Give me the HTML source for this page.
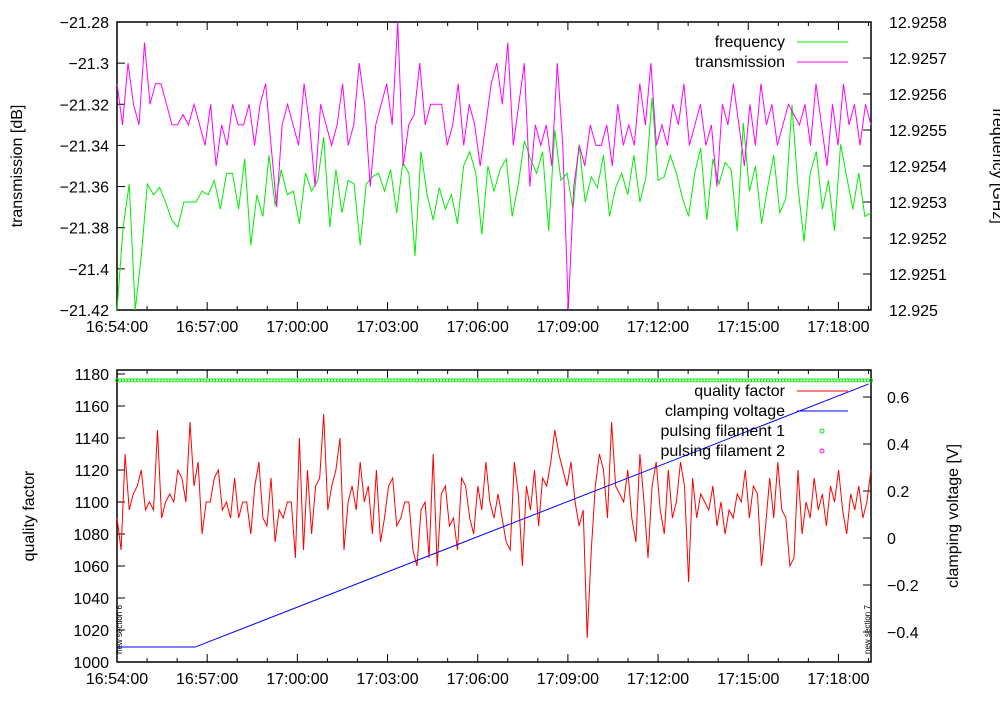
<!DOCTYPE html>
<html><head><meta charset="utf-8"><style>
body{margin:0;background:#fff;width:1000px;height:700px;overflow:hidden}
svg text{font-family:"Liberation Sans",sans-serif;font-size:16px;fill:#000}
</style></head><body>
<svg id="c" width="1000" height="700"></svg>
<script>
const freqVals=[0,2.3,3.5,0,1.5,3.5,3.2,3.4,3,2.5,2.3,3,3,3,3.3,3.2,3.6,2.8,3.8,3.8,2.8,4.2,1.8,3.2,2.6,4.3,2.9,3.9,3.2,3.3,2.4,3.8,3.3,3.6,4.8,2.3,3.9,2.7,3.6,3.5,1.8,3.5,3.7,3.8,3.3,3.9,2.7,4.1,3.8,1.5,4.4,3.2,2.5,3.4,2.8,3.2,2.4,4,4.4,3.8,2.1,4,3.3,3.9,4.2,2.6,3.5,4.7,4.2,3.8,4.4,2.2,5,3.6,3.8,2.8,4.6,3,3.7,3.4,4.3,2.6,3.4,3.8,3.2,4.3,3,3.7,5.9,3.6,3.7,4.3,3.8,3.1,2.6,3.8,4.5,2.5,4.2,3.5,4.1,3.9,2.2,5.2,3.3,4.0,2.4,3.4,4.3,2.7,3.1,5.7,3.4,1.9,3.8,4.4,2.8,3.6,2.2,4.6,3.7,2.8,3.8,2.6,2.7];
const transVals=[-21.31,-21.33,-21.30,-21.32,-21.33,-21.29,-21.32,-21.31,-21.31,-21.32,-21.33,-21.33,-21.325,-21.33,-21.32,-21.33,-21.34,-21.32,-21.35,-21.33,-21.34,-21.32,-21.33,-21.33,-21.32,-21.34,-21.32,-21.31,-21.34,-21.37,-21.33,-21.32,-21.33,-21.34,-21.31,-21.33,-21.36,-21.32,-21.33,-21.34,-21.33,-21.31,-21.34,-21.33,-21.30,-21.32,-21.36,-21.33,-21.32,-21.31,-21.33,-21.28,-21.35,-21.33,-21.325,-21.30,-21.33,-21.32,-21.32,-21.32,-21.34,-21.33,-21.31,-21.34,-21.32,-21.33,-21.35,-21.33,-21.31,-21.30,-21.32,-21.29,-21.34,-21.32,-21.30,-21.36,-21.33,-21.34,-21.33,-21.35,-21.30,-21.34,-21.42,-21.36,-21.34,-21.35,-21.33,-21.34,-21.34,-21.33,-21.35,-21.32,-21.34,-21.33,-21.34,-21.31,-21.33,-21.30,-21.34,-21.33,-21.34,-21.32,-21.33,-21.31,-21.34,-21.33,-21.32,-21.34,-21.33,-21.36,-21.32,-21.33,-21.31,-21.33,-21.35,-21.32,-21.34,-21.31,-21.33,-21.32,-21.34,-21.33,-21.32,-21.325,-21.33,-21.32,-21.34,-21.31,-21.33,-21.35,-21.32,-21.34,-21.31,-21.33,-21.32,-21.34,-21.32,-21.33];
const qVals=[1090,1070,1130,1095,1105,1110,1120,1095,1100,1095,1145,1090,1100,1105,1100,1120,1115,1100,1150,1110,1125,1080,1100,1100,1115,1120,1095,1100,1090,1115,1090,1100,1100,1080,1110,1125,1090,1085,1115,1075,1095,1090,1100,1100,1065,1140,1070,1120,1080,1110,1115,1155,1095,1110,1120,1140,1070,1100,1110,1095,1125,1100,1110,1080,1120,1075,1090,1110,1115,1085,1090,1100,1100,1070,1060,1095,1100,1065,1130,1060,1105,1110,1085,1090,1070,1115,1110,1090,1080,1110,1095,1125,1100,1090,1105,1090,1075,1070,1125,1105,1060,1110,1095,1120,1085,1115,1110,1125,1145,1130,1120,1110,1125,1100,1085,1095,1015,1070,1110,1130,1120,1090,1150,1110,1105,1100,1120,1090,1075,1130,1100,1065,1110,1125,1095,1080,1120,1090,1100,1125,1110,1050,1115,1090,1105,1100,1095,1110,1085,1100,1080,1095,1090,1105,1100,1120,1090,1110,1105,1060,1085,1115,1090,1125,1095,1090,1060,1065,1120,1080,1100,1090,1115,1095,1105,1085,1110,1100,1120,1095,1080,1105,1095,1110,1090,1100,1120];
const voltTimes=[0,156,1500];
const voltVals=[-0.464,-0.464,0.655];
const pulse1Count=250;
const pulse1Val=1176;
const timeLabels=["16:54:00","16:57:00","17:00:00","17:03:00","17:06:00","17:09:00","17:12:00","17:15:00","17:18:00"];
const topLeftTicks=[-21.42,-21.4,-21.38,-21.36,-21.34,-21.32,-21.3,-21.28];
const topRightTicks=["12.925","12.9251","12.9252","12.9253","12.9254","12.9255","12.9256","12.9257","12.9258"];
const botLeftTicks=[1000,1020,1040,1060,1080,1100,1120,1140,1160,1180];
const botRightTicks=[-0.4,-0.2,0,0.2,0.4,0.6];

const NS="http://www.w3.org/2000/svg",svg=document.getElementById('c');
function el(t,a,p){const e=document.createElementNS(NS,t);for(const k in a)e.setAttribute(k,a[k]);(p||svg).appendChild(e);return e;}
const fmt=v=>String(v).replace('-','\u2212');
const X0=117,X1=871,SPAN=1505;
const xs=t=>X0+t*(X1-X0)/SPAN;
const yT=v=>310-(v+21.42)/0.14*288;
const yF=v=>310-v*36;
const yQ=v=>662-(v-1000)/180*288;
const yV=v=>538-v*235;
function frame(top,bot,name){
  const g=el('g',{});
  el('rect',{x:X0,y:top,width:X1-X0,height:bot-top,fill:'none',stroke:'#000','stroke-width':1.5},g);
  for(let m=0;m*60<=SPAN;m++){const x=xs(m*60),L=(m%3==0)?8:4;
    el('line',{x1:x,y1:bot,x2:x,y2:bot-L,stroke:'#000'},g);el('line',{x1:x,y1:top,x2:x,y2:top+L,stroke:'#000'},g);}
  timeLabels.forEach((s,i)=>{const t=el('text',{x:xs(i*180),y:bot+22,'text-anchor':'middle'},g);t.textContent=s;});
  return g;
}
function line(vals,xf,yf,color,name){
  const n=vals.length;const pts=vals.map((v,i)=>xf(i,n).toFixed(1)+','+yf(v).toFixed(1)).join(' ');
  const p=el('polyline',{points:pts,fill:'none',stroke:color,'stroke-width':1});
  
}
const idx=(i,n)=>xs(i*SPAN/(n-1));
const g1=frame(22,310,'top-plot');
topLeftTicks.forEach(v=>{const y=yT(v);el('line',{x1:X0,y1:y,x2:X0+8,y2:y,stroke:'#000'},g1);const t=el('text',{x:X0-8,y:y+6,'text-anchor':'end'},g1);t.textContent=fmt(v);});
topRightTicks.forEach((s,i)=>{const y=yF(i);el('line',{x1:X1,y1:y,x2:X1-8,y2:y,stroke:'#000'},g1);const t=el('text',{x:X1+18,y:y+6},g1);t.textContent=s;});
line(freqVals,idx,yF,'#00ee00','frequency-line');
line(transVals,idx,yT,'#ff00ff','transmission-line');
let t=el('text',{x:22,y:166,'text-anchor':'middle',transform:'rotate(-90 22 166)'});t.textContent='transmission [dB]';
t=el('text',{x:993,y:166,'text-anchor':'middle',transform:'rotate(90 993 166)'});t.textContent='frequency [GHz]';
[['frequency','#00ee00',47],['transmission','#ff00ff',67]].forEach(([s,c,y])=>{const tt=el('text',{x:785,y:y,'text-anchor':'end'});tt.textContent=s;el('line',{x1:797,y1:y-5,x2:848,y2:y-5,stroke:c});});
const g2=frame(370,662,'bottom-plot');
botLeftTicks.forEach(v=>{const y=yQ(v);el('line',{x1:X0,y1:y,x2:X0+8,y2:y,stroke:'#000'},g2);const tt=el('text',{x:X0-8,y:y+6,'text-anchor':'end'},g2);tt.textContent=String(v);});
botRightTicks.forEach(v=>{const y=yV(v);el('line',{x1:X1,y1:y,x2:X1-8,y2:y,stroke:'#000'},g2);const tt=el('text',{x:X1+16,y:y+6},g2);tt.textContent=fmt(v);});
const pg=el('g',{});
for(let i=0;i<pulse1Count;i++)el('circle',{cx:idx(i,pulse1Count),cy:yQ(pulse1Val),r:1.6,fill:'none',stroke:'#00ee00','stroke-width':0.8},pg);
line(qVals,idx,yQ,'#ff0000','quality-factor-line');
const vp=el('polyline',{points:voltTimes.map((tt,i)=>xs(tt)+','+yV(voltVals[i])).join(' '),fill:'none',stroke:'#0000ff','stroke-width':1});

t=el('text',{x:34,y:516,'text-anchor':'middle',transform:'rotate(-90 34 516)'});t.textContent='quality factor';
t=el('text',{x:958,y:516,'text-anchor':'middle',transform:'rotate(-90 958 516)'});t.textContent='clamping voltage [V]';
[['quality factor',396],['clamping voltage',416],['pulsing filament 1',436],['pulsing filament 2',456]].forEach(([s,y],i)=>{const tt=el('text',{x:785,y:y,'text-anchor':'end'});tt.textContent=s;
 if(i<2)el('line',{x1:797,y1:y-5,x2:848,y2:y-5,stroke:i?'#0000ff':'#ff0000'});else el('circle',{cx:822,cy:y-5,r:2,fill:'none',stroke:i==2?'#00ee00':'#ff00ff'});});
[['new section 6',122,654],['new section 7',870,654]].forEach(([s,x,y])=>{const tt=el('text',{x:x,y:y,transform:`rotate(-90 ${x} ${y})`,style:'font-size:8px'});tt.textContent=s;});
</script>
</body></html>
